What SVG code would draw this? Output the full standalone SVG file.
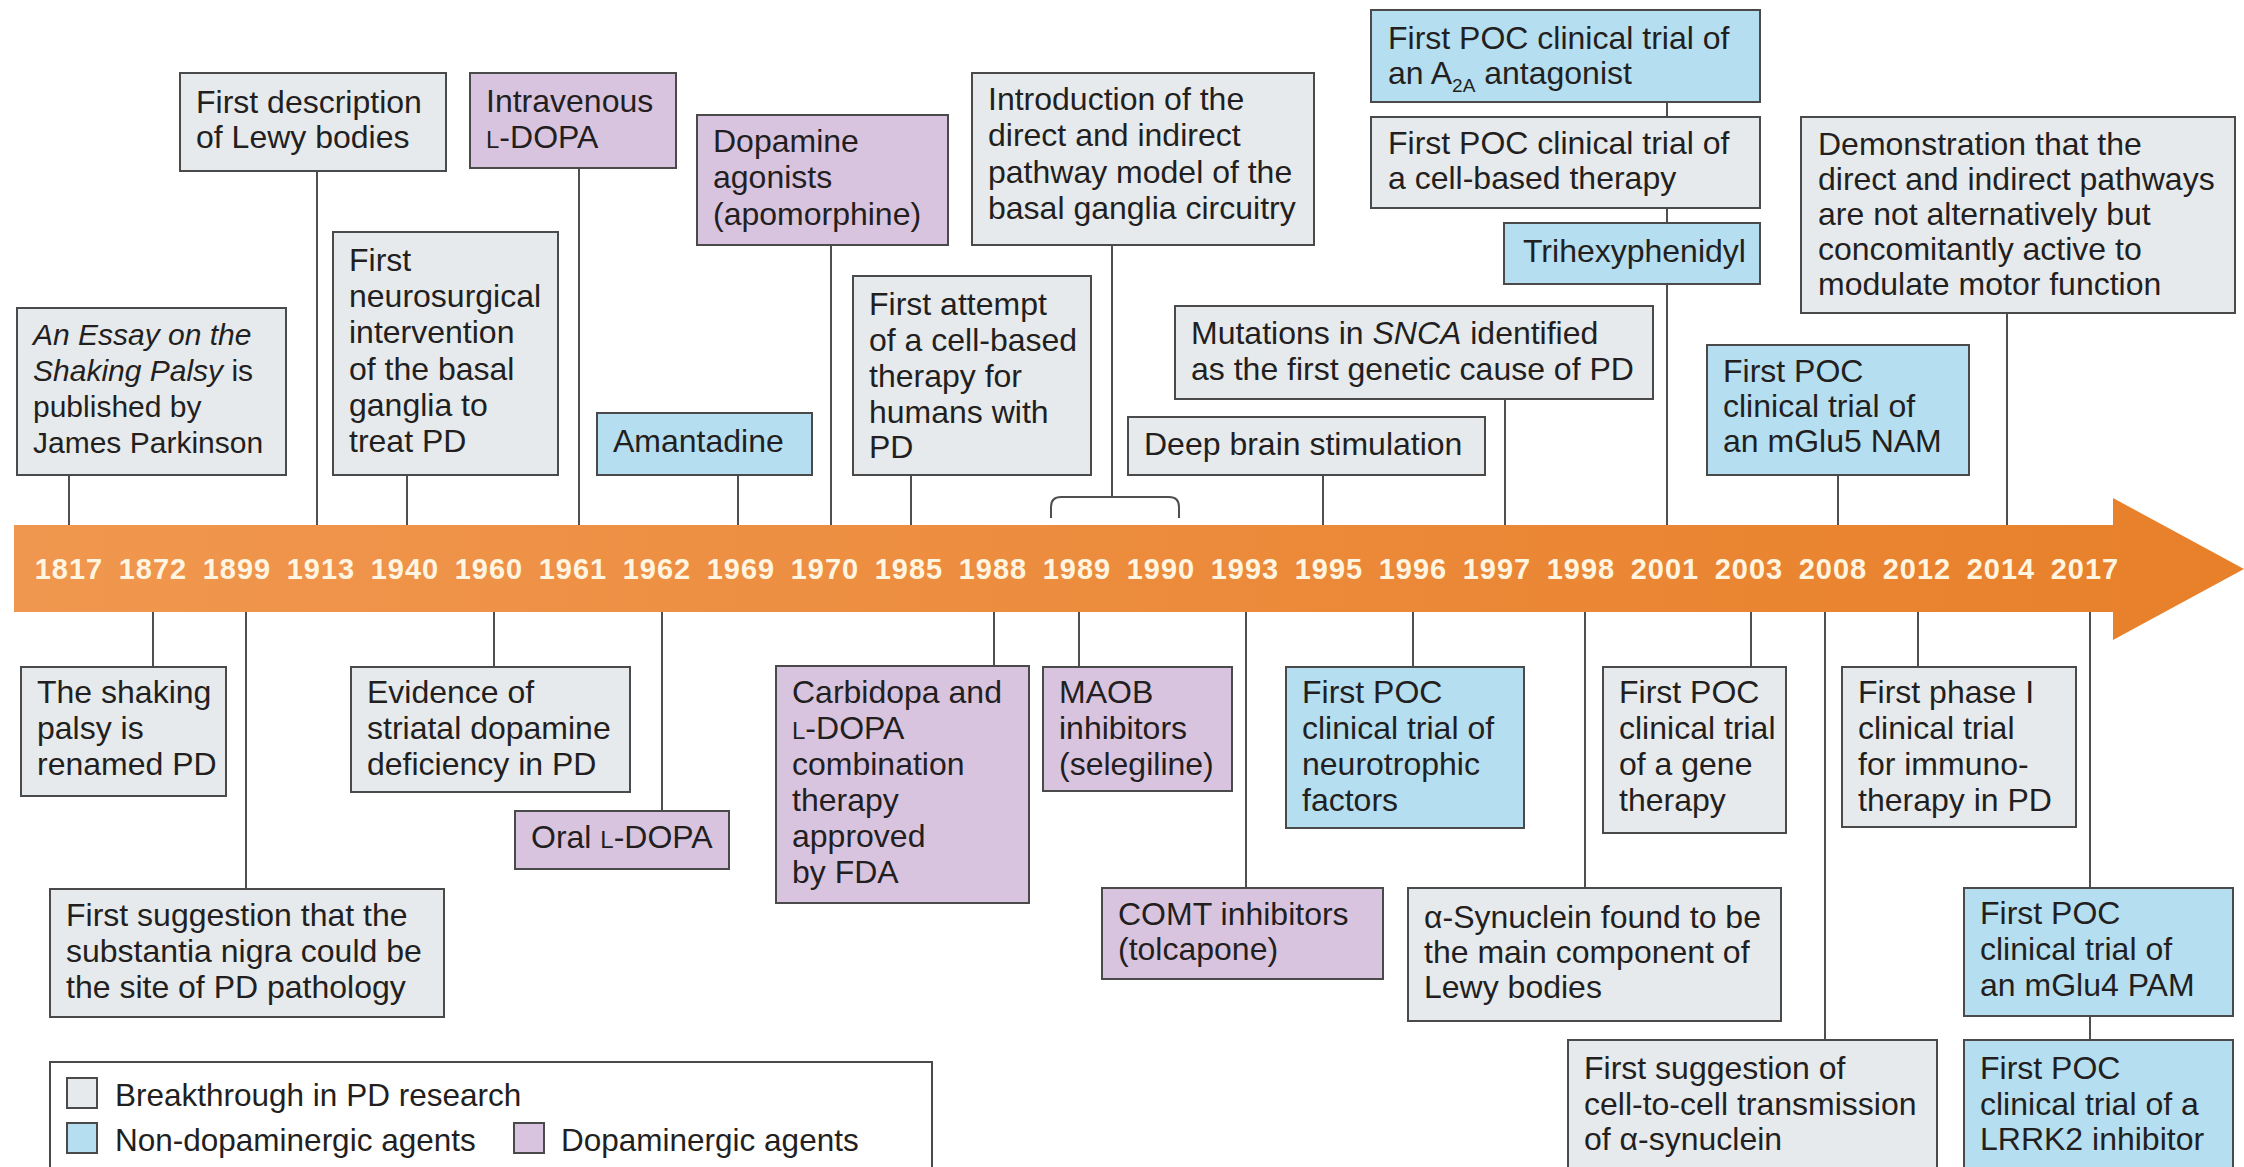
<svg xmlns="http://www.w3.org/2000/svg" width="2244" height="1167" viewBox="0 0 2244 1167">
<defs>
<linearGradient id="barGrad" x1="0" y1="0" x2="1" y2="0">
<stop offset="0" stop-color="#F0974F"/>
<stop offset="1" stop-color="#E8802A"/>
</linearGradient>
<style>
.box{stroke:#4A4A4A;stroke-width:2}
.g{fill:#E6EAED}
.b{fill:#B5DEF0}
.p{fill:#D9C4E0}
.t{font-family:"Liberation Sans",Arial,sans-serif;font-size:32px;fill:#231F20}
.lg{font-family:"Liberation Sans",Arial,sans-serif;font-size:31.5px;fill:#231F20}
.c{stroke:#4F4F4F;stroke-width:2;fill:none}
.y{font-family:"Liberation Sans",Arial,sans-serif;font-size:29px;font-weight:bold;fill:#FFF5E1;text-anchor:middle;letter-spacing:1px}
.sc{font-size:24px}
.i{font-style:italic}
</style>
</defs>
<rect width="2244" height="1167" fill="#FFFFFF"/>

<g id="connectors">
<path class="c" d="M69,475V525 M317,171V525 M407,475V525 M579,168V525 M738,475V525 M831,245V525 M911,475V525 M1112,245V497 M1323,475V525 M1505,399V525 M1667,102V117 M1667,208V223 M1667,284V525 M1838,475V525 M2007,313V525"/>
<path class="c" d="M1051,518V507Q1051,497 1061,497H1169Q1179,497 1179,507V518"/>
<path class="c" d="M153,612V667 M246,612V889 M494,612V667 M662,612V811 M994,612V666 M1079,612V667 M1246,612V888 M1413,612V667 M1585,612V888 M1751,612V667 M1825,612V1040 M1918,612V667 M2090,612V888 M2090,1016V1040"/>
</g>

<g id="timeline">
<path d="M14,525H2113V498L2244,569L2113,640V612H14Z" fill="url(#barGrad)"/>
<text class="y" y="579"><tspan x="69">1817</tspan><tspan x="153">1872</tspan><tspan x="237">1899</tspan><tspan x="321">1913</tspan><tspan x="405">1940</tspan><tspan x="489">1960</tspan><tspan x="573">1961</tspan><tspan x="657">1962</tspan><tspan x="741">1969</tspan><tspan x="825">1970</tspan><tspan x="909">1985</tspan><tspan x="993">1988</tspan><tspan x="1077">1989</tspan><tspan x="1161">1990</tspan><tspan x="1245">1993</tspan><tspan x="1329">1995</tspan><tspan x="1413">1996</tspan><tspan x="1497">1997</tspan><tspan x="1581">1998</tspan><tspan x="1665">2001</tspan><tspan x="1749">2003</tspan><tspan x="1833">2008</tspan><tspan x="1917">2012</tspan><tspan x="2001">2014</tspan><tspan x="2085">2017</tspan></text>
</g>

<g id="n1817">
<rect class="box g" x="17" y="308" width="269" height="167"/>
<text class="t" style="font-size:30px"><tspan x="33" y="345" class="i">An Essay on the</tspan><tspan x="33" y="381"><tspan class="i">Shaking Palsy</tspan> is</tspan><tspan x="33" y="417">published by</tspan><tspan x="33" y="453">James Parkinson</tspan></text>
</g>
<g id="n1913">
<rect class="box g" x="180" y="73" width="266" height="98"/>
<text class="t"><tspan x="196" y="113">First description</tspan><tspan x="196" y="148">of Lewy bodies</tspan></text>
</g>
<g id="n1940">
<rect class="box g" x="333" y="232" width="225" height="243"/>
<text class="t"><tspan x="349" y="271">First</tspan><tspan x="349" y="307">neurosurgical</tspan><tspan x="349" y="343">intervention</tspan><tspan x="349" y="380">of the basal</tspan><tspan x="349" y="416">ganglia to</tspan><tspan x="349" y="452">treat PD</tspan></text>
</g>
<g id="n1961">
<rect class="box p" x="470" y="73" width="206" height="95"/>
<text class="t"><tspan x="486" y="112">Intravenous</tspan><tspan x="486" y="148"><tspan class="sc">L</tspan>-DOPA</tspan></text>
</g>
<g id="n1969">
<rect class="box b" x="597" y="413" width="215" height="62"/>
<text class="t" x="613" y="452">Amantadine</text>
</g>
<g id="n1970">
<rect class="box p" x="697" y="115" width="251" height="130"/>
<text class="t"><tspan x="713" y="152">Dopamine</tspan><tspan x="713" y="188">agonists</tspan><tspan x="713" y="225">(apomorphine)</tspan></text>
</g>
<g id="n1989-1990">
<rect class="box g" x="972" y="73" width="342" height="172"/>
<text class="t"><tspan x="988" y="110">Introduction of the</tspan><tspan x="988" y="146">direct and indirect</tspan><tspan x="988" y="183">pathway model of the</tspan><tspan x="988" y="219">basal ganglia circuitry</tspan></text>
</g>
<g id="n1985">
<rect class="box g" x="853" y="276" width="238" height="199"/>
<text class="t"><tspan x="869" y="315">First attempt</tspan><tspan x="869" y="351">of a cell-based</tspan><tspan x="869" y="387">therapy for</tspan><tspan x="869" y="423">humans with</tspan><tspan x="869" y="458">PD</tspan></text>
</g>
<g id="n1995">
<rect class="box g" x="1128" y="417" width="357" height="58"/>
<text class="t" x="1144" y="455">Deep brain stimulation</text>
</g>
<g id="n1997">
<rect class="box g" x="1175" y="306" width="478" height="93"/>
<text class="t"><tspan x="1191" y="344">Mutations in <tspan class="i">SNCA</tspan> identified</tspan><tspan x="1191" y="380">as the first genetic cause of PD</tspan></text>
</g>
<g id="n2001-a2a">
<rect class="box b" x="1371" y="10" width="389" height="92"/>
<text class="t"><tspan x="1388" y="49">First POC clinical trial of</tspan><tspan x="1388" y="84">an A<tspan style="font-size:19px" dy="8">2A</tspan><tspan dy="-8"> antagonist</tspan></tspan></text>
</g>
<g id="n2001-cell">
<rect class="box g" x="1371" y="117" width="389" height="91"/>
<text class="t"><tspan x="1388" y="154">First POC clinical trial of</tspan><tspan x="1388" y="189">a cell-based therapy</tspan></text>
</g>
<g id="n2001-trihex">
<rect class="box b" x="1504" y="223" width="256" height="61"/>
<text class="t" x="1523" y="262">Trihexyphenidyl</text>
</g>
<g id="n2014">
<rect class="box g" x="1801" y="117" width="434" height="196"/>
<text class="t"><tspan x="1818" y="155">Demonstration that the</tspan><tspan x="1818" y="190">direct and indirect pathways</tspan><tspan x="1818" y="225">are not alternatively but</tspan><tspan x="1818" y="260">concomitantly active to</tspan><tspan x="1818" y="295">modulate motor function</tspan></text>
</g>
<g id="n2008-mglu5">
<rect class="box b" x="1707" y="345" width="262" height="130"/>
<text class="t"><tspan x="1723" y="382">First POC</tspan><tspan x="1723" y="417">clinical trial of</tspan><tspan x="1723" y="452">an mGlu5 NAM</tspan></text>
</g>

<g id="n1872">
<rect class="box g" x="21" y="667" width="205" height="129"/>
<text class="t"><tspan x="37" y="703">The shaking</tspan><tspan x="37" y="739">palsy is</tspan><tspan x="37" y="775">renamed PD</tspan></text>
</g>
<g id="n1899">
<rect class="box g" x="50" y="889" width="394" height="128"/>
<text class="t"><tspan x="66" y="926">First suggestion that the</tspan><tspan x="66" y="962">substantia nigra could be</tspan><tspan x="66" y="998">the site of PD pathology</tspan></text>
</g>
<g id="n1960">
<rect class="box g" x="351" y="667" width="279" height="125"/>
<text class="t"><tspan x="367" y="703">Evidence of</tspan><tspan x="367" y="739">striatal dopamine</tspan><tspan x="367" y="775">deficiency in PD</tspan></text>
</g>
<g id="n1962">
<rect class="box p" x="515" y="811" width="214" height="58"/>
<text class="t" x="531" y="848">Oral <tspan class="sc">L</tspan>-DOPA</text>
</g>
<g id="n1988">
<rect class="box p" x="776" y="666" width="253" height="237"/>
<text class="t"><tspan x="792" y="703">Carbidopa and</tspan><tspan x="792" y="739"><tspan class="sc">L</tspan>-DOPA</tspan><tspan x="792" y="775">combination</tspan><tspan x="792" y="811">therapy</tspan><tspan x="792" y="847">approved</tspan><tspan x="792" y="883">by FDA</tspan></text>
</g>
<g id="n1989">
<rect class="box p" x="1043" y="667" width="189" height="124"/>
<text class="t"><tspan x="1059" y="703">MAOB</tspan><tspan x="1059" y="739">inhibitors</tspan><tspan x="1059" y="775">(selegiline)</tspan></text>
</g>
<g id="n1993">
<rect class="box p" x="1102" y="888" width="281" height="91"/>
<text class="t"><tspan x="1118" y="925">COMT inhibitors</tspan><tspan x="1118" y="960">(tolcapone)</tspan></text>
</g>
<g id="n1996">
<rect class="box b" x="1286" y="667" width="238" height="161"/>
<text class="t"><tspan x="1302" y="703">First POC</tspan><tspan x="1302" y="739">clinical trial of</tspan><tspan x="1302" y="775">neurotrophic</tspan><tspan x="1302" y="811">factors</tspan></text>
</g>
<g id="n1998">
<rect class="box g" x="1408" y="888" width="373" height="133"/>
<text class="t"><tspan x="1424" y="928">α-Synuclein found to be</tspan><tspan x="1424" y="963">the main component of</tspan><tspan x="1424" y="998">Lewy bodies</tspan></text>
</g>
<g id="n2003">
<rect class="box g" x="1603" y="667" width="183" height="166"/>
<text class="t"><tspan x="1619" y="703">First POC</tspan><tspan x="1619" y="739">clinical trial</tspan><tspan x="1619" y="775">of a gene</tspan><tspan x="1619" y="811">therapy</tspan></text>
</g>
<g id="n2008-cell">
<rect class="box g" x="1568" y="1040" width="369" height="160"/>
<text class="t"><tspan x="1584" y="1079">First suggestion of</tspan><tspan x="1584" y="1115">cell-to-cell transmission</tspan><tspan x="1584" y="1150">of α-synuclein</tspan></text>
</g>
<g id="n2012">
<rect class="box g" x="1842" y="667" width="234" height="160"/>
<text class="t"><tspan x="1858" y="703">First phase I</tspan><tspan x="1858" y="739">clinical trial</tspan><tspan x="1858" y="775">for immuno-</tspan><tspan x="1858" y="811">therapy in PD</tspan></text>
</g>
<g id="n2017-mglu4">
<rect class="box b" x="1964" y="888" width="269" height="128"/>
<text class="t"><tspan x="1980" y="924">First POC</tspan><tspan x="1980" y="960">clinical trial of</tspan><tspan x="1980" y="996">an mGlu4 PAM</tspan></text>
</g>
<g id="n2017-lrrk2">
<rect class="box b" x="1964" y="1040" width="269" height="160"/>
<text class="t"><tspan x="1980" y="1079">First POC</tspan><tspan x="1980" y="1115">clinical trial of a</tspan><tspan x="1980" y="1150">LRRK2 inhibitor</tspan></text>
</g>

<g id="legend">
<rect x="50" y="1062" width="882" height="140" fill="#FFFFFF" stroke="#4A4A4A" stroke-width="2"/>
<rect class="box g" x="67" y="1078" width="30" height="30"/>
<text class="lg" x="115" y="1106">Breakthrough in PD research</text>
<rect class="box b" x="67" y="1123" width="30" height="30"/>
<text class="lg" x="115" y="1151">Non-dopaminergic agents</text>
<rect class="box p" x="514" y="1123" width="30" height="30"/>
<text class="lg" x="561" y="1151">Dopaminergic agents</text>
</g>
</svg>
